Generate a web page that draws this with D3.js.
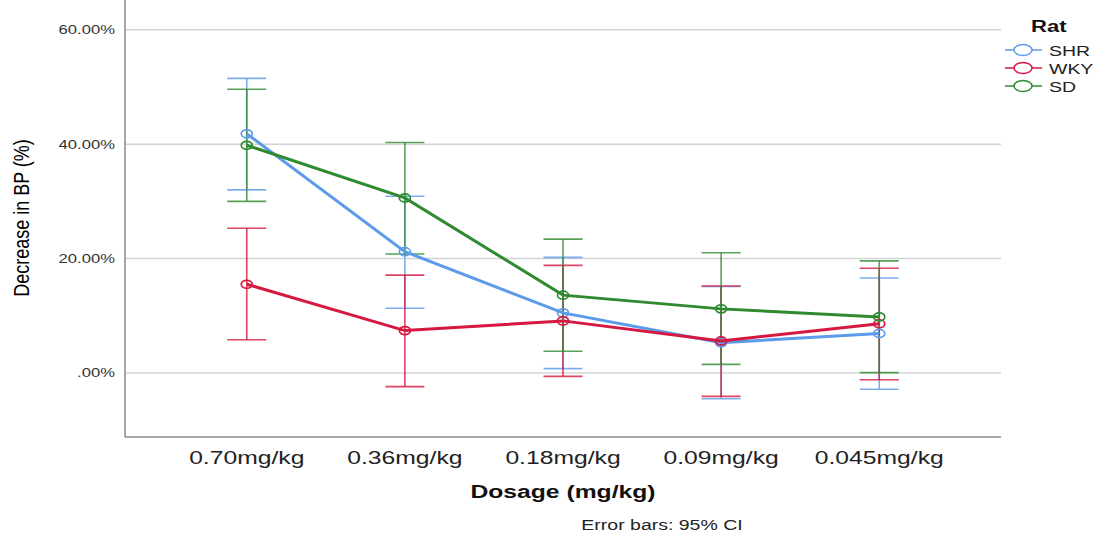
<!DOCTYPE html>
<html lang="en">
<head>
<meta charset="UTF-8">
<title>Decrease in BP by dosage</title>
<script src="https://d3js.org/d3.v7.min.js"></script>
<style>
    body { margin: 0; background: #fff; font-family: Arial, "Liberation Sans", sans-serif; }
    svg { display: block; }
    .tick-label { font-size: 12.8px; fill: #333; }
    .cat-label { font-size: 19px; fill: #222; }
    .axis-title { font-weight: bold; fill: #111; }
</style>
</head>
<body>
<svg id="chart" width="1102" height="539"></svg>
<script>
const categories = ["0.70mg/kg", "0.36mg/kg", "0.18mg/kg", "0.09mg/kg", "0.045mg/kg"];
const seriesNames = ["SHR", "WKY", "SD"];

const shrMean = [41.8, 21.2, 10.5, 5.3, 6.9];
const shrLow  = [32.0, 11.3, 0.75, -4.5, -2.85];
const shrHigh = [51.5, 30.9, 20.2, 15.1, 16.6];

const wkyMean = [15.5, 7.4, 9.1, 5.6, 8.6];
const wkyLow  = [5.8, -2.4, -0.6, -4.1, -1.2];
const wkyHigh = [25.3, 17.1, 18.8, 15.2, 18.3];

const sdMean = [39.8, 30.6, 13.6, 11.2, 9.8];
const sdLow  = [30.0, 20.8, 3.8, 1.5, 0.05];
const sdHigh = [49.6, 40.3, 23.4, 21.0, 19.6];

const yTicks = [0, 20, 40, 60];
const yTickLabels = [".00%", "20.00%", "40.00%", "60.00%"];

const colors = { SHR: "#5b9bea", WKY: "#d6173f", SD: "#2f8a2f" };
const stretch = 1.3; // the picture is wider than it is tall, text looks stretched

const series = [
    { name: "SHR", mean: shrMean, low: shrLow, high: shrHigh },
    { name: "WKY", mean: wkyMean, low: wkyLow, high: wkyHigh },
    { name: "SD",  mean: sdMean,  low: sdLow,  high: sdHigh }
];

const margin = { top: 0, right: 101, bottom: 102, left: 125 };
const width = 1102, height = 539;
const svg = d3.select("#chart");

const x = d3.scalePoint()
    .domain(categories)
    .range([margin.left, width - margin.right])
    .padding(0.77);

const y = d3.scaleLinear()
    .domain([-11.2, 65.2])
    .range([height - margin.bottom, margin.top]);

// grid lines
svg.append("g")
    .selectAll("line")
    .data(yTicks)
    .join("line")
    .attr("x1", margin.left)
    .attr("x2", width - margin.right)
    .attr("y1", d => y(d))
    .attr("y2", d => y(d))
    .attr("stroke", "#d4d4d4")
    .attr("stroke-width", 1.5);

// axis lines
svg.append("line")
    .attr("x1", margin.left).attr("x2", margin.left)
    .attr("y1", y.range()[1]).attr("y2", y.range()[0])
    .attr("stroke", "#8a8a8a").attr("stroke-width", 1.5);
svg.append("line")
    .attr("x1", margin.left).attr("x2", width - margin.right)
    .attr("y1", y.range()[0]).attr("y2", y.range()[0])
    .attr("stroke", "#8a8a8a").attr("stroke-width", 1.5);

// y tick labels
svg.append("g")
    .selectAll("text")
    .data(yTicks)
    .join("text")
    .attr("class", "tick-label")
    .attr("text-anchor", "end")
    .attr("transform", d => `translate(115,${y(d) + 4.5}) scale(${stretch},1)`)
    .text((d, i) => yTickLabels[i]);

// x category labels
svg.append("g")
    .selectAll("text")
    .data(categories)
    .join("text")
    .attr("class", "cat-label")
    .attr("text-anchor", "middle")
    .attr("transform", d => `translate(${x(d)},464) scale(${stretch},1)`)
    .text(d => d);

// axis titles
svg.append("text")
    .attr("class", "axis-title")
    .attr("text-anchor", "middle")
    .attr("transform", `translate(563,498) scale(${stretch},1)`)
    .style("font-size", "19px")
    .text("Dosage (mg/kg)");

svg.append("text")
    .attr("text-anchor", "middle")
    .attr("transform", "translate(29,218) rotate(-90) scale(1,1.2)")
    .style("font-size", "18px")
    .style("fill", "#000")
    .text("Decrease in BP (%)");

svg.append("text")
    .attr("text-anchor", "middle")
    .attr("transform", `translate(662,530) scale(${stretch},1)`)
    .style("font-size", "15px")
    .style("fill", "#222")
    .text("Error bars: 95% CI");

// error bars
const capHalf = 19.5;
series.forEach(s => {
    const g = svg.append("g")
        .attr("stroke", colors[s.name])
        .attr("stroke-opacity", 0.8)
        .attr("stroke-width", 1.6);
    const rows = categories.map((c, i) => ({ c, lo: s.low[i], hi: s.high[i] }));
    g.selectAll(".stem").data(rows).join("line")
        .attr("x1", d => x(d.c)).attr("x2", d => x(d.c))
        .attr("y1", d => y(d.lo)).attr("y2", d => y(d.hi));
    g.selectAll(".cap-hi").data(rows).join("line")
        .attr("x1", d => x(d.c) - capHalf).attr("x2", d => x(d.c) + capHalf)
        .attr("y1", d => y(d.hi)).attr("y2", d => y(d.hi));
    g.selectAll(".cap-lo").data(rows).join("line")
        .attr("x1", d => x(d.c) - capHalf).attr("x2", d => x(d.c) + capHalf)
        .attr("y1", d => y(d.lo)).attr("y2", d => y(d.lo));
});

// mean lines and markers
const line = d3.line()
    .x((d, i) => x(categories[i]))
    .y(d => y(d));

series.forEach(s => {
    svg.append("path")
        .datum(s.mean)
        .attr("d", line)
        .attr("fill", "none")
        .attr("stroke", colors[s.name])
        .attr("stroke-width", 3);
    svg.append("g")
        .selectAll("ellipse")
        .data(s.mean)
        .join("ellipse")
        .attr("cx", (d, i) => x(categories[i]))
        .attr("cy", d => y(d))
        .attr("rx", 5.5)
        .attr("ry", 4)
        .attr("fill", "none")
        .attr("stroke", colors[s.name])
        .attr("stroke-width", 1.7);
});

// legend
const legend = svg.append("g");
legend.append("text")
    .attr("transform", `translate(1031,32) scale(${stretch},1)`)
    .style("font-size", "17px")
    .style("font-weight", "bold")
    .style("fill", "#111")
    .text("Rat");

const legendY = [50, 68, 86];
seriesNames.forEach((name, i) => {
    const ly = legendY[i];
    legend.append("line")
        .attr("x1", 1005).attr("x2", 1042)
        .attr("y1", ly).attr("y2", ly)
        .attr("stroke", colors[name]).attr("stroke-width", 1.5);
    legend.append("ellipse")
        .attr("cx", 1023).attr("cy", ly)
        .attr("rx", 9).attr("ry", 5.5)
        .attr("fill", "#fff")
        .attr("stroke", colors[name]).attr("stroke-width", 1.5);
    legend.append("text")
        .attr("transform", `translate(1049,${ly + 5.5}) scale(${stretch},1)`)
        .style("font-size", "15px")
        .style("fill", "#222")
        .text(name);
});
</script>
</body>
</html>
